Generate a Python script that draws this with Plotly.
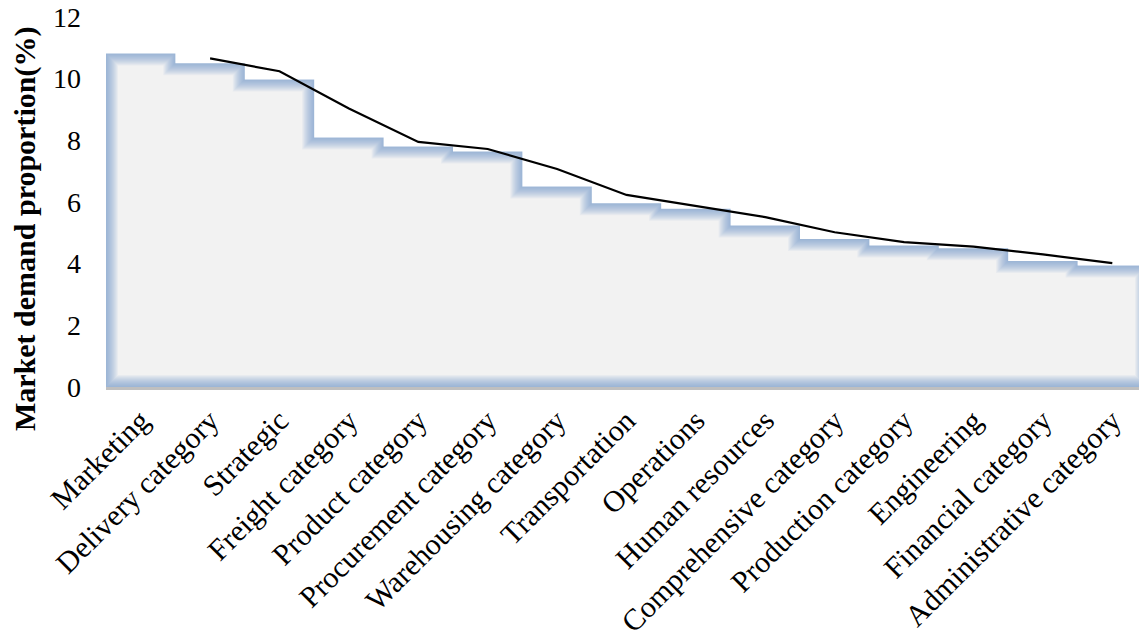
import plotly.graph_objects as go

categories = ["Marketing", "Delivery category", "Strategic", "Freight category",
              "Product category", "Procurement category", "Warehousing category",
              "Transportation", "Operations", "Human resources",
              "Comprehensive category", "Production category", "Engineering",
              "Financial category", "Administrative category"]
values = [10.82, 10.50, 9.97, 8.09, 7.80, 7.64, 6.50, 5.96, 5.78, 5.24,
          4.80, 4.59, 4.50, 4.09, 3.94]
# 2-period moving-average trendline (starts at the 2nd category)
trend = [10.66, 10.24, 9.03, 7.95, 7.72, 7.07, 6.23, 5.87, 5.51, 5.02,
         4.70, 4.55, 4.30, 4.02]
y_ticks = [0, 2, 4, 6, 8, 10, 12]

n = len(categories)
idx = list(range(n))
FONT = "Liberation Serif, Times New Roman, serif"
YMAX = 12

fig = go.Figure()

# gray bars (gap 0)
fig.add_trace(go.Bar(x=idx, y=values, width=1.0, marker=dict(color="#f2f2f2", line=dict(width=0)),
                     hoverinfo="skip", showlegend=False))

# outline of the stepped bar shape, built from the values
edges_x, edges_y = [], []
for i, v in enumerate(values):
    edges_x += [i - 0.5, i + 0.5]
    edges_y += [v, v]
outline_x = [-0.5] + edges_x + [n - 0.5, -0.5]
outline_y = [0] + edges_y + [0, 0]

# soft inner blue glow: stacked translucent strokes
for w in range(24, 0, -2):
    fig.add_trace(go.Scatter(x=outline_x, y=outline_y, mode="lines",
                             line=dict(color="rgba(110,148,208,0.075)", width=w),
                             hoverinfo="skip", showlegend=False))

# white cover above the shape so the glow only shows inside
cover_x = edges_x + [n - 0.5, -0.5]
cover_y = edges_y + [YMAX, YMAX]
fig.add_trace(go.Scatter(x=cover_x, y=cover_y, mode="lines", fill="toself",
                         fillcolor="white", line=dict(width=0, color="white"),
                         hoverinfo="skip", showlegend=False))

# moving-average trend line
fig.add_trace(go.Scatter(x=idx[1:], y=trend, mode="lines",
                         line=dict(color="black", width=2.2),
                         hoverinfo="skip", showlegend=False))

# page has an 8px body margin, so the figure is 8px smaller than the window
fig.update_layout(
    width=1139, height=627,
    margin=dict(l=98, r=0, t=9, b=248),
    paper_bgcolor="white", plot_bgcolor="white",
    bargap=0, showlegend=False,
    font=dict(family=FONT, color="black", size=28),
)
fig.update_xaxes(
    range=[-0.5, n - 0.5], tickmode="array", tickvals=idx, ticktext=categories,
    tickangle=-45, showgrid=False, zeroline=False,
    showline=True, linecolor="#bfbfbf", linewidth=3,
    ticks="", ticklabelstandoff=1,
    tickfont=dict(family=FONT, size=30, color="black"),
    automargin=False,
)
fig.update_yaxes(
    range=[0, YMAX], tickmode="array", tickvals=y_ticks,
    showgrid=False, zeroline=False, showline=False,
    ticks="", ticklabelstandoff=24, ticklabeloverflow="allow",
    tickfont=dict(family=FONT, size=28, color="black"),
    automargin=False,
)

fig.add_annotation(
    text="<b>Market demand proportion(%)</b>", textangle=-90,
    xref="paper", yref="paper", x=-0.0778, y=0.427,
    xanchor="center", yanchor="middle", showarrow=False,
    font=dict(family=FONT, size=30, color="black"),
)

fig.write_html("out.html")
